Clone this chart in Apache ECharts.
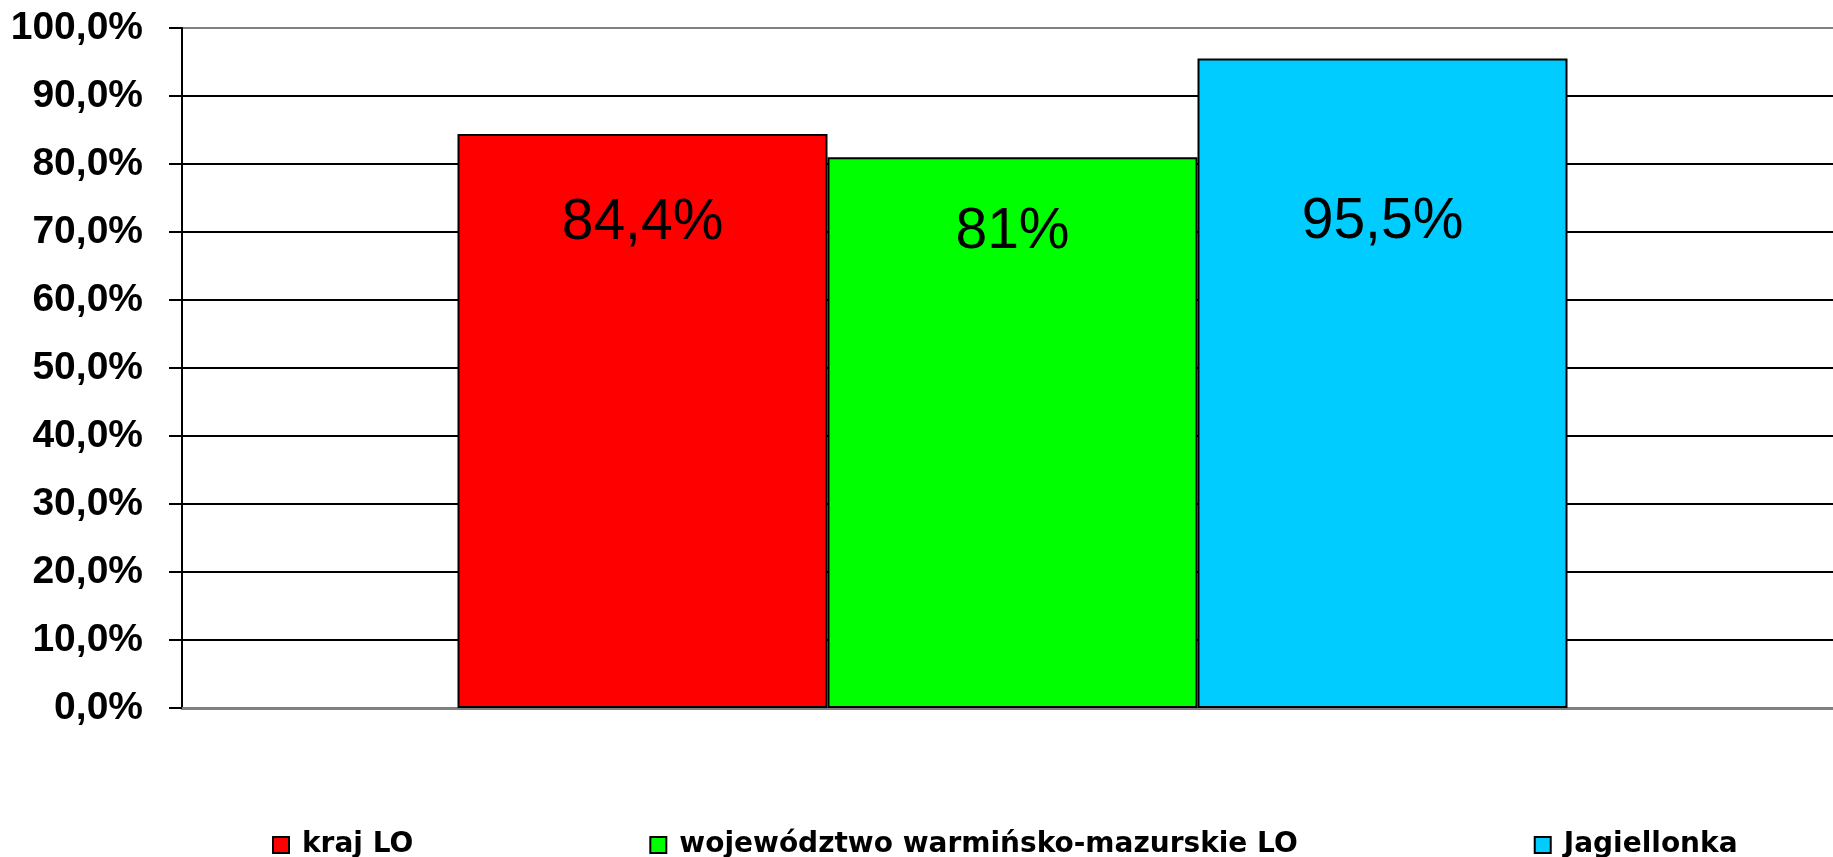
<!DOCTYPE html>
<html>
<head>
<meta charset="utf-8">
<script src="https://cdn.jsdelivr.net/npm/echarts@6/dist/echarts.min.js"></script>
<style>
html,body{margin:0;padding:0;background:#fff;}
#chart{width:1833px;height:857px;}
</style>
</head>
<body>
<div id="chart"></div>
<script>
const categories = [''];
const seriesNames = ['kraj LO', 'województwo warmińsko-mazurskie LO', 'Jagiellonka'];
const seriesValues = [84.4, 81, 95.5];
const seriesColors = ['#FF0000', '#00FF00', '#00CCFF'];
const yTicks = [0, 10, 20, 30, 40, 50, 60, 70, 80, 90, 100];

const labelOffsets = [89, 75, 164];

const chart = echarts.init(document.getElementById('chart'));
const series = seriesNames.map((name, i) => ({
  name: name,
  type: 'bar',
  data: [seriesValues[i]],
  barGap: '0%',
  barWidth: 370,
  itemStyle: { color: seriesColors[i], borderColor: '#000', borderWidth: 2 },
  label: {
    show: true,
    position: ['50%', labelOffsets[i]],
    align: 'center',
    verticalAlign: 'middle',
    fontFamily: 'Liberation Sans, Arial, sans-serif',
    fontSize: 57,
    color: '#000',
    formatter: p => String(p.value).replace('.', ',') + '%'
  }
}));

const splitColors = yTicks.map((t, i) => (i === yTicks.length - 1 || i === 0) ? '#808080' : '#000000');

chart.setOption({
  animation: false,
  backgroundColor: '#fff',
  grid: { left: 182, width: 1661, top: 28, bottom: 149, containLabel: false, outerBoundsMode: 'none' },
  legend: {
    left: 267,
    top: 826,
    itemGap: 236,
    itemWidth: 16,
    itemHeight: 16,
    icon: 'rect',
    itemStyle: { borderColor: '#000', borderWidth: 2 },
    textStyle: {
      fontFamily: 'DejaVu Sans, sans-serif',
      fontWeight: 'bold',
      fontSize: 28,
      color: '#000',
      padding: [0, 0, 0, 8]
    },
    data: seriesNames
  },
  xAxis: {
    type: 'category',
    data: categories,
    axisLine: { show: true, lineStyle: { color: '#808080', width: 3 } },
    axisTick: { show: false },
    axisLabel: { show: false },
    splitLine: { show: false }
  },
  yAxis: {
    type: 'value',
    min: yTicks[0],
    max: yTicks[yTicks.length - 1],
    interval: 10,
    axisLine: { show: true, lineStyle: { color: '#000', width: 2 } },
    axisTick: { show: true, inside: false, length: 13, lineStyle: { color: '#000', width: 2 } },
    axisLabel: {
      margin: 39,
      fontFamily: 'Liberation Sans, Arial, sans-serif',
      fontWeight: 'bold',
      fontSize: 39,
      color: '#000',
      formatter: v => v.toFixed(1).replace('.', ',') + '%'
    },
    splitLine: { show: true, lineStyle: { color: splitColors, width: 2 } }
  },
  series: series
});
</script>
</body>
</html>
